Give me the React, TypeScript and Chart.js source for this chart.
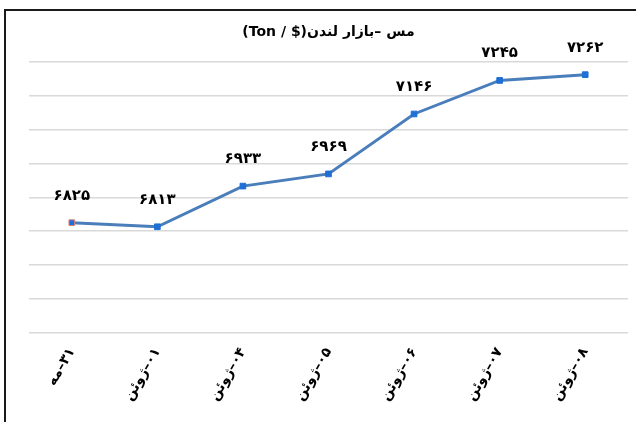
import React, { useEffect, useRef } from "react";
import { Chart, registerables } from "chart.js";

Chart.register(...registerables);

const categories = ["۳۱–مه", "۰۱–ژوئن", "۰۴–ژوئن", "۰۵–ژوئن", "۰۶–ژوئن", "۰۷–ژوئن", "۰۸–ژوئن"];
const prices = [6825, 6813, 6933, 6969, 7146, 7245, 7262];
const titleText = "مس –بازار لندن($ / Ton)";
const yMin = 6500;
const yMax = 7300;
const yStep = 100;

const FONT = '"DejaVu Sans", "Liberation Sans", sans-serif';

const toFa = (n: number) => String(n).replace(/[0-9]/g, (d) => "۰۱۲۳۴۵۶۷۸۹"[Number(d)]);

const valueLabels = {
  id: "valueLabels",
  afterDatasetsDraw(chart: any) {
    const ctx = chart.ctx;
    const meta = chart.getDatasetMeta(0);
    ctx.save();
    ctx.direction = "rtl";
    ctx.font = `bold 15px ${FONT}`;
    ctx.fillStyle = "#000";
    ctx.textAlign = "center";
    ctx.textBaseline = "middle";
    meta.data.forEach((pt: any, i: number) => {
      ctx.fillText(toFa(prices[i]), pt.x, pt.y - 27);
    });
    ctx.restore();
  },
};

export default function App() {
  const ref = useRef<HTMLCanvasElement>(null);
  useEffect(() => {
    if (!ref.current) return;
    const chart = new Chart(ref.current, {
      type: "line",
      data: {
        labels: categories,
        datasets: [
          {
            data: prices,
            borderColor: "#4a7ebb",
            borderWidth: 3,
            pointStyle: "rect",
            pointRadius: 4,
            pointBackgroundColor: "#1f6fd6",
            pointBorderColor: prices.map((_, i) => (i === 0 ? "#d9807a" : "#1f6fd6")),
            pointBorderWidth: 1,
            tension: 0,
          },
        ],
      },
      options: {
        animation: false,
        responsive: false,
        layout: { padding: { left: 29, right: 8, top: 0, bottom: 6 } },
        plugins: {
          legend: { display: false },
          tooltip: { enabled: false },
          title: {
            display: true,
            text: titleText,
            color: "#000",
            font: { family: FONT, size: 14, weight: "bold" },
            padding: { top: 24, bottom: 21 },
          },
        },
        scales: {
          x: {
            offset: true,
            grid: { display: false, drawTicks: false },
            border: { display: false },
            ticks: {
              color: "#000",
              font: { family: FONT, size: 14, weight: "bold" },
              minRotation: 60,
              maxRotation: 60,
              padding: 12,
            },
          },
          y: {
            min: yMin,
            max: yMax,
            grid: { color: "#d9d9d9", lineWidth: 1.5, drawTicks: false },
            border: { display: false },
            ticks: { display: false, stepSize: yStep },
          },
        },
      },
      plugins: [valueLabels],
    });
    return () => chart.destroy();
  }, []);
  return (
    <div style={{ position: "absolute", left: 0, top: 0, width: 636, height: 422, overflow: "hidden", background: "#fff" }}>
      <canvas ref={ref} width={636} height={422} dir="rtl" style={{ position: "absolute", left: 0, top: 0, direction: "rtl" }} />
      <div
        style={{
          position: "absolute",
          left: 4,
          top: 9,
          width: 700,
          height: 500,
          borderLeft: "2px solid #1a1a1a",
          borderTop: "2px solid #1a1a1a",
          pointerEvents: "none",
        }}
      />
    </div>
  );
}
